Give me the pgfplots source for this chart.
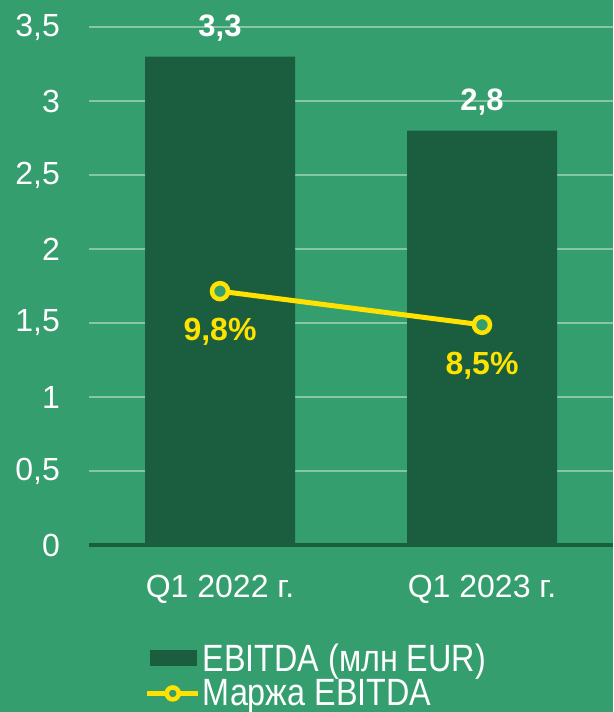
\documentclass[border=0pt]{standalone}
\usepackage{pgfplots}
\pgfplotsset{compat=1.18}
\usepackage{fontspec}
\setmainfont{Liberation Sans}
\newfontfamily\narrowfont{Liberation Sans}[FakeStretch=0.85]
\definecolor{bg}{RGB}{53,158,110}
\definecolor{barc}{RGB}{27,94,63}
\definecolor{gridc}{RGB}{134,197,168}
\definecolor{yel}{RGB}{255,226,0}
\begin{document}
\begin{tikzpicture}
\fill[bg] (0,0) rectangle (613pt,712pt);
\begin{axis}[
 at={(89pt,167pt)}, anchor=south west,
 scale only axis, width=524pt, height=518pt,
 xmin=-0.5, xmax=1.5, ymin=0, ymax=3.5,
 axis line style={draw=none},
 tick style={draw=none},
 ytick={0,0.5,1,1.5,2,2.5,3,3.5},
 /pgf/number format/assume math mode=true,
 yticklabel style={font=\fontsize{32pt}{38pt}\selectfont, text=white, inner sep=0pt, xshift=-29pt, /pgf/number format/use comma},
 xtick={0,1}, xticklabels={Q1 2022 г.,Q1 2023 г.},
 xticklabel style={font=\fontsize{32pt}{38pt}\selectfont, text=white, inner sep=0pt, anchor=north, yshift=-26pt},
 ymajorgrids, grid style={gridc, line width=2pt},
 extra y ticks={0}, extra y tick labels={}, extra y tick style={grid style={barc, line width=4.5pt}},
 clip=false,
 ybar, bar width=150pt,
 nodes near coords={\pgfmathprintnumber[use comma,fixed,precision=1,fixed zerofill]{\pgfplotspointmeta}},
 nodes near coords style={font=\bfseries\fontsize{31pt}{37pt}\selectfont, text=white, anchor=south, inner sep=0pt, yshift=15pt},
]
\addplot[fill=barc, draw=none] coordinates {(0,3.3) (1,2.8)};
\end{axis}
\begin{axis}[
 at={(89pt,167pt)}, anchor=south west,
 scale only axis, width=524pt, height=518pt,
 xmin=-0.5, xmax=1.5, ymin=0, ymax=20,
 hide axis, clip=false,
 /pgf/number format/assume math mode=true,
 legend style={at={(0.106,-0.186)}, anchor=north west, draw=none, fill=none,
   font=\narrowfont\fontsize{38pt}{40pt}\selectfont, text=white, inner sep=0pt,
   row sep=3pt, column sep=0pt, nodes={inner sep=2pt}},
 legend cell align=left,
]
\addlegendimage{legend image code/.code={\fill[barc] (3pt,-7.5pt) rectangle (49pt,7.5pt);}}
\addlegendentry{EBITDA (млн EUR)}
\addplot[yel, line width=5pt, mark=*, mark size=8pt, mark options={fill=bg, draw=yel, line width=4.5pt},
 nodes near coords={\pgfmathprintnumber[use comma,fixed,precision=1,fixed zerofill]{\pgfplotspointmeta}\%},
 nodes near coords style={font=\bfseries\fontsize{32pt}{38pt}\selectfont, text=yel, anchor=north, inner sep=0pt, yshift=-25pt},
 legend image code/.code={\draw[yel, line width=5pt] (0pt,0pt) -- (51pt,0pt); \draw[yel, line width=4.5pt, fill=bg] (25.5pt,0pt) circle (6pt);}]
 coordinates {(0,9.8) (1,8.5)};
\addlegendentry{Маржа EBITDA}
\end{axis}
\pgfresetboundingbox
\useasboundingbox (0,0) rectangle (613pt,712pt);
\end{tikzpicture}
\end{document}
